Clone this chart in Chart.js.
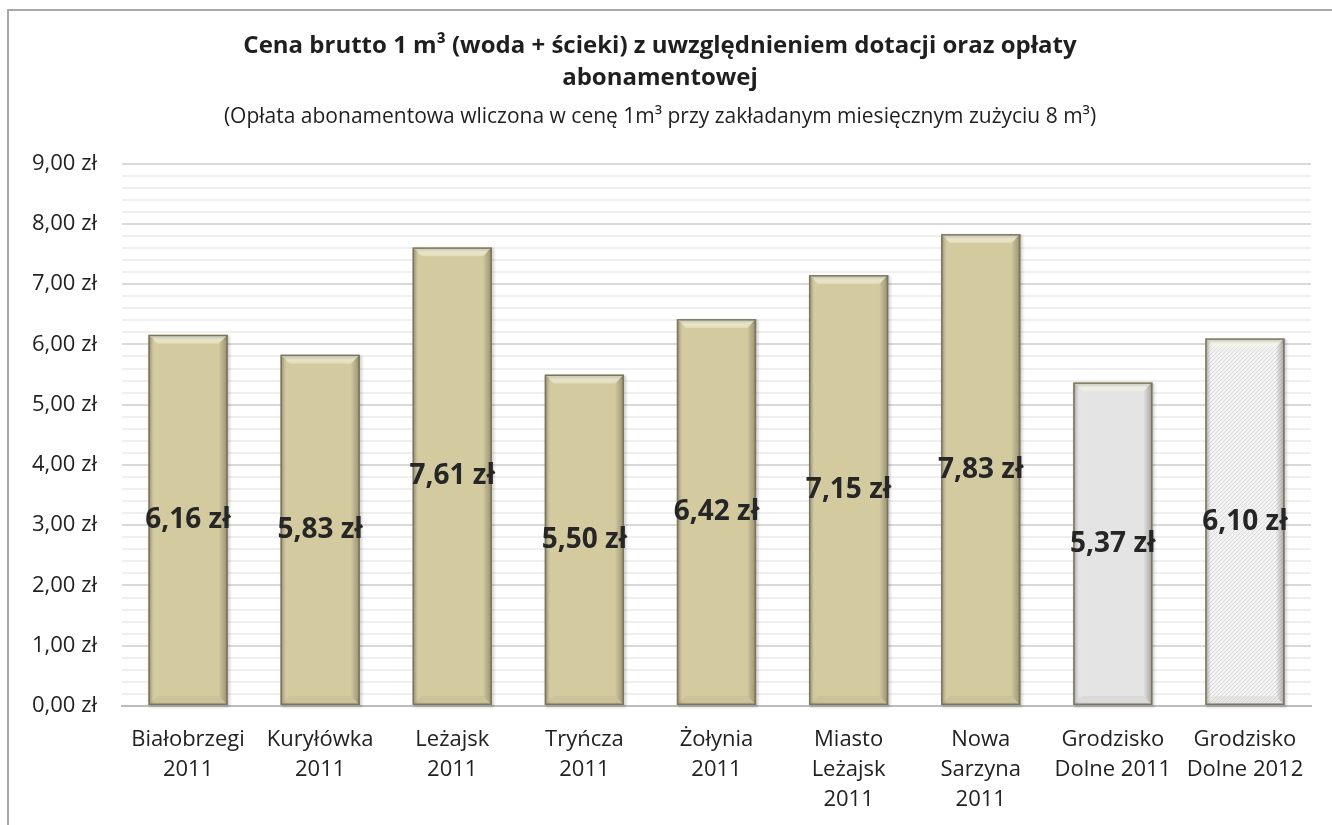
<!DOCTYPE html>
<html>
<head>
<meta charset="utf-8">
<script src="https://cdn.jsdelivr.net/npm/chart.js@4/dist/chart.umd.min.js"></script>
<style>
  html,body{margin:0;padding:0;background:#fff;}
  #frame{position:absolute;left:7px;top:9px;width:1325px;height:816px;border-left:2px solid #a8a8a8;border-top:2px solid #a8a8a8;box-sizing:border-box;}
  #wrap{position:absolute;left:9px;top:12px;width:1323px;height:813px;}
</style>
</head>
<body>
<div id="frame"></div>
<div id="wrap"><canvas id="c"></canvas></div>
<script>
// ---- data ----
const categories = [
  ['Białobrzegi','2011'],
  ['Kuryłówka','2011'],
  ['Leżajsk','2011'],
  ['Tryńcza','2011'],
  ['Żołynia','2011'],
  ['Miasto','Leżajsk','2011'],
  ['Nowa','Sarzyna','2011'],
  ['Grodzisko','Dolne 2011'],
  ['Grodzisko','Dolne 2012']
];
const prices = [6.16, 5.83, 7.61, 5.50, 6.42, 7.15, 7.83, 5.37, 6.10];
const yTickLabels = ['0,00 zł','1,00 zł','2,00 zł','3,00 zł','4,00 zł','5,00 zł','6,00 zł','7,00 zł','8,00 zł','9,00 zł'];
const titleLines = ['Cena brutto 1 m³ (woda + ścieki) z uwzględnieniem dotacji oraz opłaty','abonamentowej'];
const subtitleText = '(Opłata abonamentowa wliczona w cenę 1m³ przy zakładanym miesięcznym zużyciu 8 m³)';

// ---- styles ----
const fillKinds = ['tan','tan','tan','tan','tan','tan','tan','gray','hatch'];
const faceColors = {tan:'#d3caa0', gray:'#e4e4e4'};

function fmt(v){ return v.toFixed(2).replace('.', ',') + ' zł'; }

const bevelPlugin = {
  id: 'bevel',
  afterDatasetsDraw(chart){
    const ctx = chart.ctx;
    const meta = chart.getDatasetMeta(0);
    meta.data.forEach((bar, i) => {
      const l = bar.x - bar.width/2, r = bar.x + bar.width/2;
      const t = bar.y, b = bar.base;
      const bv = 9;
      ctx.save();
      // top bevel
      let g = ctx.createLinearGradient(0, t, 0, t+bv);
      g.addColorStop(0, 'rgba(255,255,240,0.95)');
      g.addColorStop(1, 'rgba(250,248,225,0.35)');
      ctx.fillStyle = g;
      ctx.beginPath(); ctx.moveTo(l,t); ctx.lineTo(r,t); ctx.lineTo(r-bv,t+bv); ctx.lineTo(l+bv,t+bv); ctx.closePath(); ctx.fill();
      // left bevel
      g = ctx.createLinearGradient(l, 0, l+bv, 0);
      g.addColorStop(0, 'rgba(90,85,60,0.30)');
      g.addColorStop(0.5, 'rgba(255,255,255,0.05)');
      g.addColorStop(1, 'rgba(255,255,255,0.0)');
      ctx.fillStyle = g;
      ctx.beginPath(); ctx.moveTo(l,t); ctx.lineTo(l+bv,t+bv); ctx.lineTo(l+bv,b-bv); ctx.lineTo(l,b); ctx.closePath(); ctx.fill();
      // right bevel
      g = ctx.createLinearGradient(r-bv, 0, r, 0);
      g.addColorStop(0, 'rgba(0,0,0,0.0)');
      g.addColorStop(1, 'rgba(60,55,35,0.35)');
      ctx.fillStyle = g;
      ctx.beginPath(); ctx.moveTo(r,t); ctx.lineTo(r-bv,t+bv); ctx.lineTo(r-bv,b-bv); ctx.lineTo(r,b); ctx.closePath(); ctx.fill();
      // bottom bevel
      ctx.fillStyle = 'rgba(80,75,50,0.06)';
      ctx.beginPath(); ctx.moveTo(l,b); ctx.lineTo(l+bv,b-bv); ctx.lineTo(r-bv,b-bv); ctx.lineTo(r,b); ctx.closePath(); ctx.fill();
      // outline with soft shadow
      ctx.shadowColor = 'rgba(0,0,0,0.35)';
      ctx.shadowBlur = 3;
      ctx.shadowOffsetX = 1.5;
      ctx.shadowOffsetY = 1.5;
      ctx.strokeStyle = '#7a755b';
      ctx.lineWidth = 1.5;
      ctx.strokeRect(l+0.75, t+0.75, r-l-1.5, b-t-1.5);
      ctx.restore();
    });
  }
};

const labelPlugin = {
  id: 'valueLabels',
  afterDatasetsDraw(chart){
    const ctx = chart.ctx;
    const meta = chart.getDatasetMeta(0);
    ctx.save();
    ctx.font = 'bold 28px "Open Sans", sans-serif';
    ctx.fillStyle = '#262626';
    ctx.textAlign = 'center';
    ctx.textBaseline = 'middle';
    meta.data.forEach((bar, i) => {
      ctx.fillText(fmt(prices[i]), bar.x, (bar.y + bar.base)/2);
    });
    ctx.restore();
  }
};

const ctxMain = document.getElementById('c').getContext('2d');
function makeHatch(){
  const p = document.createElement('canvas');
  p.width = 4; p.height = 4;
  const g = p.getContext('2d');
  g.fillStyle = '#f2f2f2'; g.fillRect(0,0,4,4);
  g.fillStyle = '#dcdcdc';
  g.fillRect(0,3,1,1); g.fillRect(1,2,1,1); g.fillRect(2,1,1,1); g.fillRect(3,0,1,1);
  return ctxMain.createPattern(p, 'repeat');
}
const hatch = makeHatch();
const barFills = fillKinds.map(k => k === 'hatch' ? hatch : faceColors[k]);

function isMajor(v){ return Math.abs(v - Math.round(v)) < 1e-6; }

new Chart(ctxMain, {
  type: 'bar',
  data: {
    labels: categories,
    datasets: [{
      data: prices,
      backgroundColor: barFills,
      borderWidth: 0,
      categoryPercentage: 1.0,
      barPercentage: 0.6
    }]
  },
  plugins: [bevelPlugin, labelPlugin],
  options: {
    responsive: true,
    maintainAspectRatio: false,
    animation: false,
    layout: { padding: { left: 0, right: 21, top: 0, bottom: 0 } },
    plugins: {
      legend: { display: false },
      tooltip: { enabled: false },
      title: {
        display: true,
        text: titleLines,
        color: '#1f1f1f',
        font: { family: '"Open Sans", sans-serif', size: 24, weight: 'bold', lineHeight: 1.3 },
        padding: { top: 19, bottom: 0 }
      },
      subtitle: {
        display: true,
        text: subtitleText,
        color: '#1f1f1f',
        font: { family: '"Open Sans", sans-serif', size: 21, weight: 'normal', lineHeight: 1.2 },
        padding: { top: 11, bottom: 34 }
      }
    },
    scales: {
      x: {
        grid: { display: false, drawTicks: false },
        border: { display: true, color: '#bdbdbd', width: 2 },
        ticks: {
          color: '#222',
          font: { family: '"Open Sans", sans-serif', size: 22, lineHeight: 1.36 },
          padding: 19,
          maxRotation: 0,
          autoSkip: false
        },
        afterFit(scale){ scale.height = 119; }
      },
      y: {
        min: 0,
        max: 9,
        grid: {
          drawTicks: false,
          color: c => isMajor(c.tick.value) ? '#d9d9d9' : '#efefef',
          lineWidth: 2
        },
        border: { display: false },
        ticks: {
          stepSize: 0.2,
          autoSkip: false,
          padding: 25,
          color: '#222',
          font: { family: '"Open Sans", sans-serif', size: 22 },
          callback: v => isMajor(v) ? yTickLabels[Math.round(v)] : ''
        },
        afterFit(scale){ scale.width = 113; }
      }
    }
  }
});
</script>
</body>
</html>
